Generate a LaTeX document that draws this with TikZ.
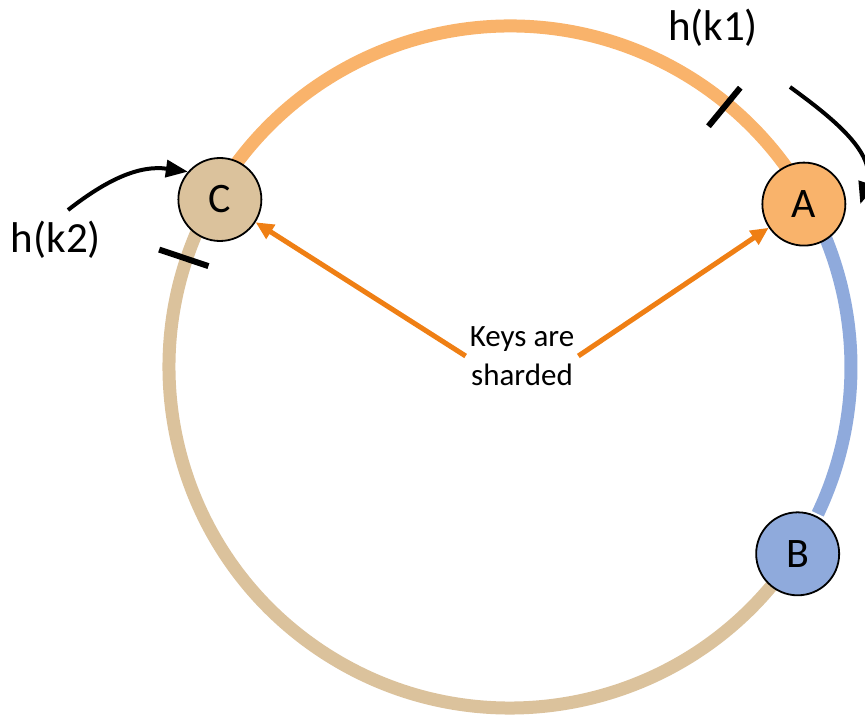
\documentclass[tikz,border=0pt]{standalone}
\usepackage{fontspec}
\setmainfont{Carlito}
\usetikzlibrary{arrows.meta,calc}

\definecolor{ringorange}{HTML}{F9B36B}
\definecolor{ringtan}{HTML}{DBC29C}
\definecolor{ringblue}{HTML}{8FAADC}
\definecolor{keyorange}{HTML}{EF7F14}

\begin{document}
\begin{tikzpicture}[x=1pt,y=1pt,
  server/.style={circle, draw, line width=1.8pt, minimum size=83pt,
                 inner sep=0pt, font=\fontsize{42}{44}\selectfont},
  ring/.style={line width=13pt},
  hashmark/.style={line width=6pt},
  lbl/.style={font=\fontsize{43}{45}\selectfont},
  shard/.style={-{Triangle[length=18pt,width=16pt]}, line width=5pt, keyorange},
  hop/.style={-{Triangle[length=22pt,width=17pt]}, line width=4pt}
]
\useasboundingbox (0,0) rectangle (865,715);
\coordinate (O) at (510,348);

% the ring, one arc per server
\draw[ring, ringtan] ($(O)+(-33:341)$) arc[start angle=-33, end angle=-210, radius=341];
\draw[ring, ringorange] ($(O)+(150:341)$) arc[start angle=150, end angle=29, radius=341];
\draw[ring, ringblue] ($(O)+(29:341)$) arc[start angle=29, end angle=-25.5, radius=341];

% hashed keys
\draw[hashmark] ($(O)+(50.5:312)$) -- ($(O)+(50.5:362)$);
\draw[hashmark] ($(O)+(161.5:318)$) -- ($(O)+(161.5:370)$);

\node[server, fill=ringtan] (C) at ($(O)+(150:335)$) {C};
\node[server, fill=ringorange] (A) at ($(O)+(29:336)$) {A};
\node[server, fill=ringblue] (B) at ($(O)+(-33:343)$) {B};

\node[font=\fontsize{31}{39}\selectfont, align=center, inner sep=4pt] (keys) at (522,359) {Keys are\\sharded};
\draw[shard] (keys.west) -- (C);
\draw[shard] (keys.east) -- (A);

\node[lbl] (hk1) at (713,687) {h(k1)};
\node[lbl] (hk2) at (56,475) {h(k2)};

\coordinate (k2from) at (68,505);
\coordinate (k1from) at (790,628);
\draw[hop] (k2from) to[out=38,in=172] (C.139);
\draw[hop] (k1from) to[out=-36,in=72] ([xshift=14pt]A.east);
\end{tikzpicture}
\end{document}
